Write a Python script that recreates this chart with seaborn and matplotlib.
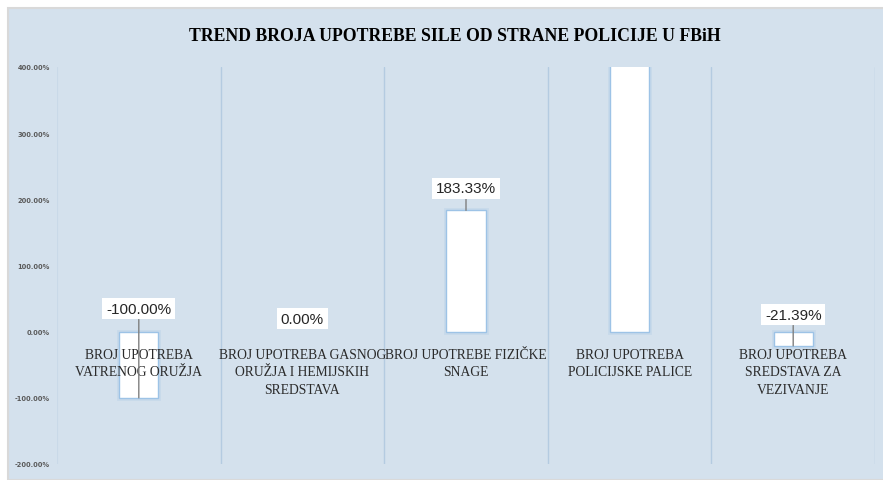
import matplotlib
matplotlib.use("Agg")
import matplotlib.pyplot as plt
import matplotlib.patheffects as pe
from matplotlib.patches import Rectangle
from matplotlib.transforms import ScaledTranslation
import seaborn as sns
import pandas as pd

title = "TREND BROJA UPOTREBE SILE OD STRANE POLICIJE U FBiH"
categories = [
    "BROJ UPOTREBA\nVATRENOG ORUŽJA",
    "BROJ UPOTREBA GASNOG\nORUŽJA I HEMIJSKIH\nSREDSTAVA",
    "BROJ UPOTREBE FIZIČKE\nSNAGE",
    "BROJ UPOTREBA\nPOLICIJSKE PALICE",
    "BROJ UPOTREBA\nSREDSTAVA ZA\nVEZIVANJE",
]
values = [-100.00, 0.00, 183.33, 500.00, -21.39]
y_ticks = [-200, -100, 0, 100, 200, 300, 400]

df = pd.DataFrame({"cat": categories, "val": values})

sns.set_theme(style="white")
plt.rcParams["font.family"] = ["Liberation Serif", "DejaVu Sans"]

bg = "#D4E1ED"
fig = plt.figure(figsize=(8.83, 4.81), dpi=100)
fig.patch.set_facecolor("white")
fig.patches.append(Rectangle((8 / 883, 0), 1 - 8 / 883 + 0.01, 1 - 9 / 481,
                             transform=fig.transFigure, facecolor=bg,
                             edgecolor="#D9D9D9", linewidth=1.5, zorder=-10))

ax = fig.add_axes([57 / 883, 1 - 465 / 481, (875 - 57) / 883, (465 - 68) / 481])
ax.set_facecolor("none")
ax.set_zorder(1)

sns.barplot(data=df, x="cat", y="val", ax=ax, color="white", width=0.24,
            edgecolor="#9DC3E6", linewidth=1.0, saturation=1, zorder=3)
for p in ax.patches:
    if abs(p.get_height()) < 1e-9:
        p.set_linewidth(0)
        continue
    p.set_path_effects([pe.withStroke(linewidth=3.5, foreground="#BDD4E9", alpha=0.55)])
    p.set_clip_on(True)

ax.set_ylim(-200, 400)
ax.set_xlim(-0.5, len(categories) - 0.5)
ax.set_yticks(y_ticks)
ax.set_yticklabels([f"{t:.2f}%" for t in y_ticks], fontsize=4.8, fontweight="bold",
                   color="#595959", family=["DejaVu Sans"])
ax.tick_params(axis="y", length=0, pad=5)
ax.set_xticks(range(len(categories)))
ax.set_xticklabels([])
ax.tick_params(axis="x", length=0)
ax.set_xticks([i + 0.5 for i in range(0, len(categories))], minor=True)
ax.grid(False)
ax.grid(True, which="minor", axis="x", color="#B4CBE1", linewidth=1, zorder=1)
ax.axvline(-0.5, color="#C9D9E8", linewidth=0.8, zorder=1)
ax.set_xlabel("")
ax.set_ylabel("")
for s in ax.spines.values():
    s.set_visible(False)

# category labels just below zero line
for i, c in enumerate(categories):
    off = ScaledTranslation(0, -16 / 100, fig.dpi_scale_trans)
    ax.text(i, 0, c, transform=ax.transData + off, ha="center", va="top",
            fontsize=9.8, color="#2B2B2B", linespacing=1.48, zorder=5)

# data labels
dy = {0: 23, 1: 13, 2: 22, 4: 17}
for i, v in enumerate(values):
    if v > 400:
        continue
    base = max(v, 0)
    off = ScaledTranslation(0, dy[i] / 100, fig.dpi_scale_trans)
    arrow = None if v == 0 else dict(arrowstyle="-", color="#7F7F7F", lw=1,
                                     shrinkA=0, shrinkB=0)
    ax.annotate(f"{v:.2f}%", xy=(i, v), xytext=(i, base),
                textcoords=ax.transData + off, ha="center", va="center",
                fontsize=11, color="#262626", family=["Liberation Sans"],
                bbox=dict(boxstyle="square,pad=0.25", fc="white", ec="none"),
                arrowprops=arrow, zorder=6)

fig.text(455 / 883, 1 - 37 / 481, title, ha="center", va="center",
         fontsize=12.8, fontweight="bold", color="black")

fig.savefig("out.png", dpi=100, facecolor=fig.get_facecolor())
